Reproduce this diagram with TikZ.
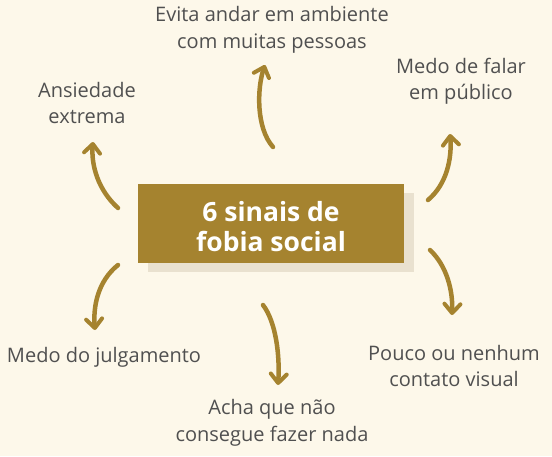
\documentclass[tikz,border=0pt]{standalone}
\usepackage{fontspec}
\setmainfont{Open Sans}
\usepackage{xcolor}
\usetikzlibrary{arrows.meta}
\definecolor{bgcream}{HTML}{FDF8EA}
\definecolor{gold}{HTML}{A5832F}
\definecolor{shadowtan}{HTML}{E9E1CF}
\definecolor{txtgray}{HTML}{505050}
\tikzset{sign/.style={align=center,text=txtgray,font=\fontsize{20}{26.5}\selectfont,inner sep=0pt},
  curv/.style={gold,line width=4.5pt,line cap=round,-{Straight Barb[length=9pt,width=16pt,line width=4pt,round]}},
  titlebox/.style={fill=gold,minimum width=266pt,minimum height=79pt,inner sep=0pt,align=center,text=white,font=\bfseries\fontsize{26.5}{30}\selectfont}}
\begin{document}
\begin{tikzpicture}[x=1pt,y=-1pt]
\fill[bgcream] (0,0) rectangle (552,456); \useasboundingbox (0,0) rectangle (552,456);
\fill[shadowtan] (148,193) rectangle (414,272);
\fill[gold] (138,184) rectangle (404,263);
\node[titlebox,fill=none,minimum height=0pt] (title) at (271,226.5) {6 sinais de\\fobia social};
\node[sign] (ansied) at (87,103) {Ansiedade\\extrema};
\node[sign] (evita) at (272,30) {Evita andar em ambiente\\com muitas pessoas};
\node[sign] (falar) at (461,81) {Medo de falar\\em público};
\node[sign] (julga) at (104,357) {Medo do julgamento};
\node[sign] (acha) at (272,423) {Acha que não\\consegue fazer nada};
\node[sign] (visual) at (454,366) {Pouco ou nenhum\\contato visual};
% arrow ends
\coordinate (a1) at (118,208); \coordinate (b1) at (93,142);
\coordinate (a2) at (273,147); \coordinate (b2) at (265,65);
\coordinate (a3) at (428,200); \coordinate (b3) at (450,134);
\coordinate (a4) at (118,265); \coordinate (b4) at (95,330);
\coordinate (a5) at (263,305); \coordinate (b5) at (278,385);
\coordinate (a6) at (430,250); \coordinate (b6) at (452,315);
\draw[curv] (a1) .. controls (98,190) and (91,165) .. (b1);
\draw[curv] (a2) .. controls (256,128) and (257,88) .. (b2);
\draw[curv] (a3) .. controls (447,184) and (452,158) .. (b3);
\draw[curv] (a4) .. controls (98,281) and (93,306) .. (b4);
\draw[curv] (a5) .. controls (276,322) and (280,356) .. (b5);
\draw[curv] (a6) .. controls (447,266) and (453,291) .. (b6);
\end{tikzpicture}
\end{document}
